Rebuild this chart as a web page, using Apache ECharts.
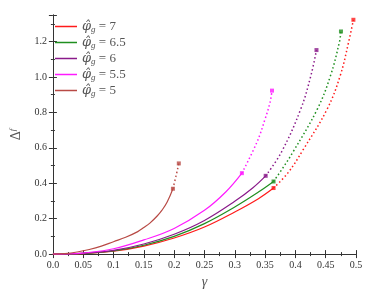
<!DOCTYPE html>
<html><head><meta charset="utf-8">
<script src="https://cdn.jsdelivr.net/npm/echarts@6/dist/echarts.min.js"></script>
<style>html,body{margin:0;padding:0;background:#fff}#c{width:374px;height:294px}</style>
</head><body><div id="c"></div>
<script>
// phi_g values (legend labels)
const phiLabels = ['7', '6.5', '6', '5.5', '5'];
const colors = ['#ff1a1a', '#1f8f1f', '#8a1a8a', '#ff1aff', '#b84a45'];

// solid parts [gamma, Delta^f]
const solid7 = [[0,0],[0.025,0.0005],[0.05,0.003],[0.1,0.016],[0.15,0.045],[0.2,0.091],[0.25,0.153],[0.3,0.238],[0.339,0.313],[0.364,0.373]];
const solid65 = [[0,0],[0.025,0.0006],[0.05,0.004],[0.1,0.018],[0.15,0.05],[0.2,0.1],[0.25,0.172],[0.3,0.266],[0.339,0.35],[0.364,0.41]];
const solid6 = [[0,0],[0.025,0.0008],[0.05,0.005],[0.1,0.021],[0.15,0.057],[0.2,0.112],[0.25,0.19],[0.3,0.298],[0.33,0.375],[0.351,0.442]];
const solid55 = [[0,0],[0.025,0.001],[0.05,0.006],[0.1,0.03],[0.15,0.08],[0.2,0.145],[0.25,0.247],[0.2855,0.352],[0.3118,0.457]];
const solid5 = [[0,0],[0.02,0.003],[0.04,0.012],[0.06,0.026],[0.08,0.045],[0.1,0.07],[0.12,0.095],[0.14,0.127],[0.15,0.15],[0.16,0.175],[0.172,0.215],[0.18,0.248],[0.1885,0.294],[0.198,0.369]];

// dotted continuations
const dot7 = [[0.364,0.373],[0.388,0.46],[0.412,0.585],[0.4526,0.82],[0.474,1.008],[0.4877,1.195],[0.4957,1.323]];
const dot65 = [[0.364,0.41],[0.38,0.49],[0.396,0.576],[0.4364,0.82],[0.458,1.008],[0.4725,1.195],[0.4752,1.257]];
const dot6 = [[0.351,0.442],[0.377,0.576],[0.409,0.82],[0.4256,1.008],[0.4348,1.152]];
const dot55 = [[0.3118,0.457],[0.3366,0.632],[0.3501,0.763],[0.3582,0.857],[0.3614,0.923]];
const dot5 = [[0.198,0.369],[0.203,0.44],[0.2077,0.512]];

const solids = [solid7, solid65, solid6, solid55, solid5];
const dots = [dot7, dot65, dot6, dot55, dot5];

const series = [];
phiLabels.forEach((p, i) => {
  series.push({name: p, type: 'line', data: solids[i], smooth: 0.4, showSymbol: false,
    lineStyle: {color: colors[i], width: 1.2}, itemStyle: {color: colors[i]}, z: 3});
  series.push({name: p + 'd', type: 'line', data: dots[i], smooth: 0.4, showSymbol: false,
    lineStyle: {color: colors[i], width: 1.5, type: [1.5, 2.5]}, itemStyle: {color: colors[i]}, z: 3});
  series.push({name: p + 'm', type: 'scatter', data: [dots[i][0], dots[i][dots[i].length - 1]],
    symbol: 'rect', symbolSize: 4, itemStyle: {color: colors[i]}, z: 4});
});

const serif = "'Liberation Serif', 'Times New Roman', serif";
const axisLine = {show: true, lineStyle: {color: '#333', width: 1}};
const chart = echarts.init(document.getElementById('c'));
chart.setOption({
  animation: false,
  textStyle: {fontFamily: serif},
  grid: {left: 47, right: 18, top: 15, bottom: 38},
  legend: {
    data: phiLabels, orient: 'vertical', left: 50, top: 15, itemGap: 2,
    icon: 'rect', itemWidth: 22, itemHeight: 1.5,
    formatter: n => '{i|\u03C6\u0302}{s|g}{t| = ' + n + '}',
    textStyle: {
      color: '#555', fontFamily: serif, fontSize: 13,
      rich: {
        i: {fontStyle: 'italic', fontSize: 13, fontFamily: "'DejaVu Serif', serif", color: '#555'},
        s: {fontStyle: 'italic', fontSize: 9, fontFamily: serif, color: '#555', padding: [6, 0, 0, 0]},
        t: {fontSize: 13, fontFamily: serif, color: '#555'}
      }
    }
  },
  xAxis: [{
    type: 'value', min: 0, max: 0.5, interval: 0.05,
    name: '\u03B3', nameLocation: 'middle', nameGap: 15,
    nameTextStyle: {fontStyle: 'italic', fontSize: 14, color: '#555', fontFamily: serif},
    axisLine, axisTick: {inside: true, length: 4, lineStyle: {color: '#333'}},
    minorTick: {show: true, splitNumber: 2, length: 2, lineStyle: {color: '#333'}},
    splitLine: {show: false},
    axisLabel: {color: '#333', fontSize: 10, fontFamily: serif, margin: 6,
      formatter: v => v === 0 ? '0.0' : String(+v.toFixed(2))}
  }, {
    type: 'value', min: 0, max: 0.5, interval: 0.05, position: 'top',
    axisLine, axisTick: {inside: true, length: 4, lineStyle: {color: '#333'}},
    minorTick: {show: true, splitNumber: 2, length: 2, lineStyle: {color: '#333'}},
    splitLine: {show: false}, axisLabel: {show: false}
  }],
  yAxis: [{
    type: 'value', min: 0, max: 1.35, interval: 0.2,
    name: '{d|\u0394}{f|f}', nameLocation: 'middle', nameGap: 25, nameRotate: 90,
    nameTextStyle: {color: '#555', fontFamily: serif,
      rich: {d: {fontSize: 14, fontFamily: serif, color: '#555'},
             f: {fontSize: 9, fontStyle: 'italic', fontFamily: serif, color: '#555', padding: [0, 0, 8, 0]}}},
    axisLine, axisTick: {inside: true, length: 4, lineStyle: {color: '#333'}},
    minorTick: {show: true, splitNumber: 2, length: 2, lineStyle: {color: '#333'}},
    splitLine: {show: false},
    axisLabel: {color: '#333', fontSize: 10, fontFamily: serif, margin: 6,
      formatter: v => v > 1.3 ? '' : v.toFixed(1)}
  }, {
    type: 'value', min: 0, max: 1.35, interval: 0.2, position: 'right',
    axisLine, axisTick: {inside: true, length: 4, lineStyle: {color: '#333'}},
    minorTick: {show: true, splitNumber: 2, length: 2, lineStyle: {color: '#333'}},
    splitLine: {show: false}, axisLabel: {show: false}
  }],
  series
});
</script></body></html>
